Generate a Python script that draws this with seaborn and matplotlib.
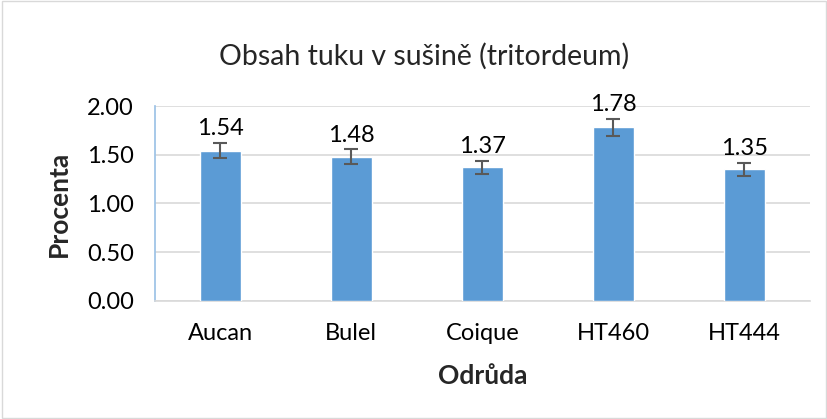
import matplotlib.pyplot as plt
import pandas as pd
import seaborn as sns
from matplotlib.patches import Rectangle

# Data
odrudy = ['Aucan', 'Bulel', 'Coique', 'HT460', 'HT444']
tuk = [1.54, 1.48, 1.37, 1.78, 1.35]
chyba = [0.077, 0.074, 0.069, 0.089, 0.068]

df = pd.DataFrame({'Odrůda': odrudy, 'Procenta': tuk, 'err': chyba})

sns.set_theme(style='white')
plt.rcParams['font.family'] = ['Lato', 'DejaVu Sans']

fig = plt.figure(figsize=(8.28, 4.19), dpi=100)
ax = fig.add_axes([0.187, 0.282, 0.791, 0.465])

sns.barplot(data=df, x='Odrůda', y='Procenta', color='#5B9BD5', width=0.31,
            saturation=1, ax=ax, zorder=3)
ax.errorbar(range(len(odrudy)), df['Procenta'], yerr=df['err'], fmt='none',
            ecolor='#595959', elinewidth=1.5, capsize=5, capthick=1.5, zorder=4)

for i, v in enumerate(tuk):
    ax.text(i, v + df['err'][i] + 0.04, f'{v:.2f}', ha='center', va='bottom',
            fontsize=17, color='#000000')

ax.set_xlim(-0.5, 4.5)
ax.set_ylim(0, 2.0)
ax.set_yticks([0, 0.5, 1.0, 1.5, 2.0])
ax.set_yticklabels([f'{t:.2f}' for t in [0, 0.5, 1.0, 1.5, 2.0]])
ax.yaxis.grid(True, color='#D9D9D9', linewidth=1.2, zorder=0)
ax.set_axisbelow(True)
for s in ['top', 'right']:
    ax.spines[s].set_visible(False)
ax.spines['left'].set_color('#9DC3E6')
ax.spines['bottom'].set_color('#D9D9D9')
ax.spines['bottom'].set_linewidth(1.2)
ax.tick_params(axis='y', labelsize=17, length=0, pad=15, colors='#000000')
ax.tick_params(axis='x', labelsize=17, length=0, pad=16, colors='#000000')

ax.set_xlabel('Odrůda', fontsize=19, fontweight='bold', labelpad=14)
ax.set_ylabel('Procenta', fontsize=19, fontweight='bold', labelpad=12)
fig.text(0.512, 0.865, 'Obsah tuku v sušině (tritordeum)', ha='center', va='center',
         fontsize=20.5)

fig.patches.append(Rectangle((0.002, 0.002), 0.996, 0.996, transform=fig.transFigure,
                             fill=False, edgecolor='#D9D9D9', linewidth=1))

fig.savefig('out.png', dpi=100)
